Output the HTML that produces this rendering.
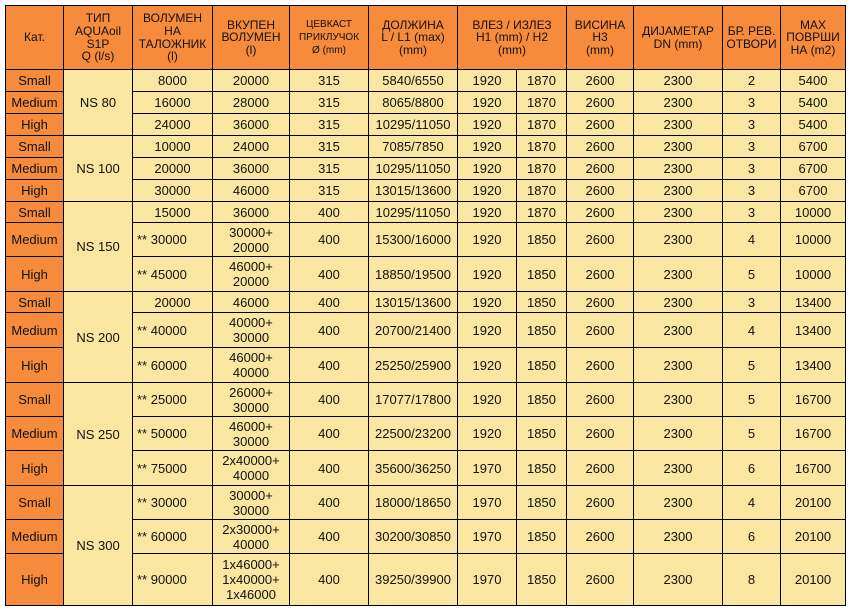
<!DOCTYPE html>
<html><head><meta charset="utf-8"><style>
html,body{margin:0;padding:0;background:#fff;width:857px;height:611px;overflow:hidden}
table{position:absolute;left:5px;top:5px;border-collapse:collapse;table-layout:fixed;font-family:"Liberation Sans",sans-serif;font-size:13px;color:#111}
td{border:1px solid #000;text-align:center;vertical-align:middle;padding:0;background:#F9E6A0;line-height:15px;overflow:hidden}
td.o{background:#F68B3C}
tr.h td{background:#F68B3C;font-size:12px;line-height:12.6px}
td.l{text-align:left;padding-left:4px}
</style></head><body>
<table>
<colgroup><col style="width:58px"><col style="width:69px"><col style="width:80px"><col style="width:77px"><col style="width:79px"><col style="width:89px"><col style="width:59px"><col style="width:50px"><col style="width:67px"><col style="width:89px"><col style="width:58px"><col style="width:65px"></colgroup>
<tr class="h" style="height:64px"><td>Кат.</td><td>ТИП<br>AQUAoil<br>S1P<br>Q (l/s)</td><td>ВОЛУМЕН<br>НА<br>ТАЛОЖНИК<br>(l)</td><td>ВКУПЕН<br>ВОЛУМЕН<br>(l)</td><td style="font-size:10px;line-height:13px">ЦЕВКАСТ<br>ПРИКЛУЧОК<br>Ø (mm)</td><td>ДОЛЖИНА<br>L / L1 (max)<br>(mm)</td><td colspan="2">ВЛЕЗ / ИЗЛЕЗ<br>H1 (mm) / H2<br>(mm)</td><td>ВИСИНА<br>H3<br>(mm)</td><td>ДИЈАМЕТАР<br>DN (mm)</td><td>БР. РЕВ.<br>ОТВОРИ</td><td>MAX<br>ПОВРШИ<br>НА (m2)</td></tr>
<tr style="height:22px"><td class="o">Small</td><td rowspan="3">NS 80</td><td>8000</td><td>20000</td><td>315</td><td>5840/6550</td><td>1920</td><td>1870</td><td>2600</td><td>2300</td><td>2</td><td>5400</td></tr>
<tr style="height:22px"><td class="o">Medium</td><td>16000</td><td>28000</td><td>315</td><td>8065/8800</td><td>1920</td><td>1870</td><td>2600</td><td>2300</td><td>3</td><td>5400</td></tr>
<tr style="height:22px"><td class="o">High</td><td>24000</td><td>36000</td><td>315</td><td>10295/11050</td><td>1920</td><td>1870</td><td>2600</td><td>2300</td><td>3</td><td>5400</td></tr>
<tr style="height:22px"><td class="o">Small</td><td rowspan="3">NS 100</td><td>10000</td><td>24000</td><td>315</td><td>7085/7850</td><td>1920</td><td>1870</td><td>2600</td><td>2300</td><td>3</td><td>6700</td></tr>
<tr style="height:22px"><td class="o">Medium</td><td>20000</td><td>36000</td><td>315</td><td>10295/11050</td><td>1920</td><td>1870</td><td>2600</td><td>2300</td><td>3</td><td>6700</td></tr>
<tr style="height:22px"><td class="o">High</td><td>30000</td><td>46000</td><td>315</td><td>13015/13600</td><td>1920</td><td>1870</td><td>2600</td><td>2300</td><td>3</td><td>6700</td></tr>
<tr style="height:21px"><td class="o">Small</td><td rowspan="3">NS 150</td><td>15000</td><td>36000</td><td>400</td><td>10295/11050</td><td>1920</td><td>1870</td><td>2600</td><td>2300</td><td>3</td><td>10000</td></tr>
<tr style="height:34px"><td class="o">Medium</td><td class="l">** 30000</td><td>30000+<br>20000</td><td>400</td><td>15300/16000</td><td>1920</td><td>1850</td><td>2600</td><td>2300</td><td>4</td><td>10000</td></tr>
<tr style="height:35px"><td class="o">High</td><td class="l">** 45000</td><td>46000+<br>20000</td><td>400</td><td>18850/19500</td><td>1920</td><td>1850</td><td>2600</td><td>2300</td><td>5</td><td>10000</td></tr>
<tr style="height:21px"><td class="o">Small</td><td rowspan="3">NS 200</td><td>20000</td><td>46000</td><td>400</td><td>13015/13600</td><td>1920</td><td>1850</td><td>2600</td><td>2300</td><td>3</td><td>13400</td></tr>
<tr style="height:35px"><td class="o">Medium</td><td class="l">** 40000</td><td>40000+<br>30000</td><td>400</td><td>20700/21400</td><td>1920</td><td>1850</td><td>2600</td><td>2300</td><td>4</td><td>13400</td></tr>
<tr style="height:35px"><td class="o">High</td><td class="l">** 60000</td><td>46000+<br>40000</td><td>400</td><td>25250/25900</td><td>1920</td><td>1850</td><td>2600</td><td>2300</td><td>5</td><td>13400</td></tr>
<tr style="height:34px"><td class="o">Small</td><td rowspan="3">NS 250</td><td class="l">** 25000</td><td>26000+<br>30000</td><td>400</td><td>17077/17800</td><td>1920</td><td>1850</td><td>2600</td><td>2300</td><td>5</td><td>16700</td></tr>
<tr style="height:34px"><td class="o">Medium</td><td class="l">** 50000</td><td>46000+<br>30000</td><td>400</td><td>22500/23200</td><td>1920</td><td>1850</td><td>2600</td><td>2300</td><td>5</td><td>16700</td></tr>
<tr style="height:35px"><td class="o">High</td><td class="l">** 75000</td><td>2x40000+<br>40000</td><td>400</td><td>35600/36250</td><td>1970</td><td>1850</td><td>2600</td><td>2300</td><td>6</td><td>16700</td></tr>
<tr style="height:34px"><td class="o">Small</td><td rowspan="3">NS 300</td><td class="l">** 30000</td><td>30000+<br>30000</td><td>400</td><td>18000/18650</td><td>1970</td><td>1850</td><td>2600</td><td>2300</td><td>4</td><td>20100</td></tr>
<tr style="height:34px"><td class="o">Medium</td><td class="l">** 60000</td><td>2x30000+<br>40000</td><td>400</td><td>30200/30850</td><td>1970</td><td>1850</td><td>2600</td><td>2300</td><td>6</td><td>20100</td></tr>
<tr style="height:52px"><td class="o">High</td><td class="l">** 90000</td><td>1x46000+<br>1x40000+<br>1x46000</td><td>400</td><td>39250/39900</td><td>1970</td><td>1850</td><td>2600</td><td>2300</td><td>8</td><td>20100</td></tr>
</table>
</body></html>
